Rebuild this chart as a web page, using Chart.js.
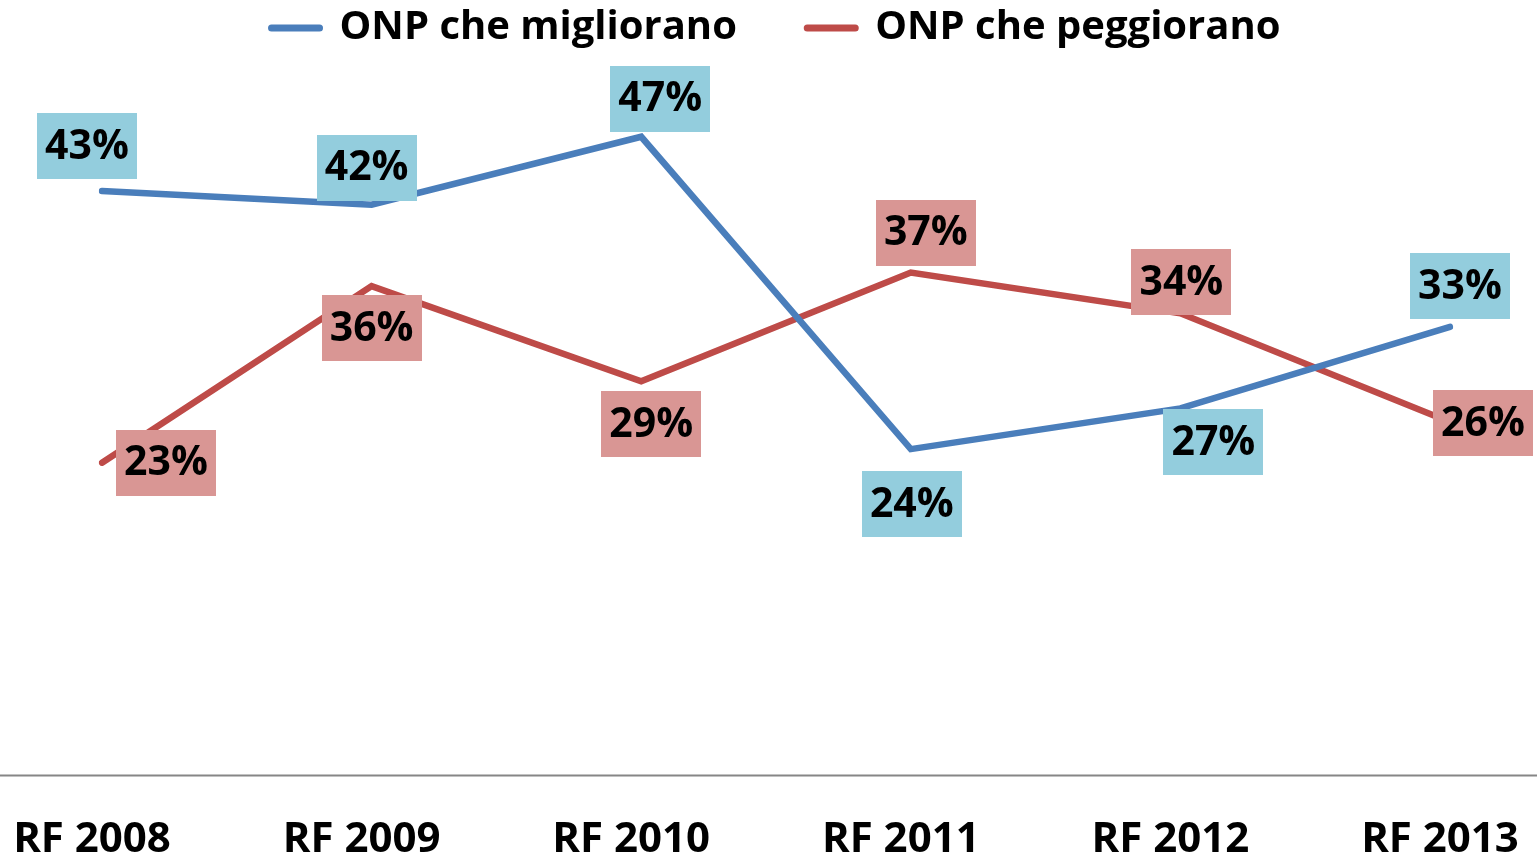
<!DOCTYPE html>
<html><head><meta charset="utf-8">
<script src="https://cdn.jsdelivr.net/npm/chart.js@4/dist/chart.umd.min.js"></script>
<style>html,body{margin:0;padding:0;background:#fff;overflow:hidden}</style>
</head><body>
<canvas id="c" width="1537" height="856"></canvas>
<script>
// ---- data ----
const categories = ['RF 2008','RF 2009','RF 2010','RF 2011','RF 2012','RF 2013'];
const seriesNames = ['ONP che migliorano','ONP che peggiorano'];
const migliorano = [43,42,47,24,27,33];
const peggiorano = [23,36,29,37,34,26];
const axisMin = 0;
const axisMax = 52.8;

// ---- styling ----
const FONT = '"Open Sans", "DejaVu Sans", sans-serif';
const lineColors = ['#4A7EBB', '#BE4B48'];
const labelBg = ['#93CDDD', '#D99694'];
// label box centre offset from the point (px)
const labelOffsets = [
  [[-15,-45],[-5,-37],[19,-38],[1,55],[33,34],[10,-41]],
  [[64,0],[0,42],[10,43],[15,-40],[1,-31],[33,1]]
];

const axisLinePlugin = {
  id: 'fullAxisLine',
  beforeDatasetsDraw(chart) {
    const ctx = chart.ctx;
    const y = Math.round(chart.scales.y.getPixelForValue(0)) + 0.5;
    ctx.save();
    ctx.strokeStyle = '#868686';
    ctx.lineWidth = 2;
    ctx.beginPath();
    ctx.moveTo(0, y);
    ctx.lineTo(chart.width, y);
    ctx.stroke();
    ctx.restore();
  }
};

const boxLabelPlugin = {
  id: 'boxLabels',
  afterDatasetsDraw(chart) {
    const ctx = chart.ctx;
    ctx.save();
    chart.data.datasets.forEach((ds, di) => {
      const meta = chart.getDatasetMeta(di);
      meta.data.forEach((pt, i) => {
        const [dx, dy] = labelOffsets[di][i];
        const cx = pt.x + dx, cy = pt.y + dy;
        ctx.fillStyle = labelBg[di];
        ctx.fillRect(Math.round(cx - 50), Math.round(cy - 33), 100, 66);
        ctx.fillStyle = '#000';
        ctx.font = '700 41px ' + FONT;
        ctx.textAlign = 'center';
        ctx.textBaseline = 'middle';
        ctx.fillText(ds.data[i] + '%', cx, cy + 1);
      });
    });
    ctx.restore();
  }
};

new Chart(document.getElementById('c'), {
  type: 'line',
  data: {
    labels: categories,
    datasets: [
      { label: seriesNames[0], data: migliorano, borderColor: lineColors[0], backgroundColor: lineColors[0],
        borderWidth: 6.5, pointRadius: 0, tension: 0, borderCapStyle: 'round', pointStyle: 'line' },
      { label: seriesNames[1], data: peggiorano, borderColor: lineColors[1], backgroundColor: lineColors[1],
        borderWidth: 6.5, pointRadius: 0, tension: 0, borderCapStyle: 'round', pointStyle: 'line' }
    ]
  },
  options: {
    responsive: false,
    animation: false,
    devicePixelRatio: 1,
    layout: { padding: { left: 102, right: 87, top: 0, bottom: 0 } },
    plugins: {
      legend: {
        position: 'top',
        labels: {
          usePointStyle: true,
          pointStyleWidth: 48,
          padding: 8,
          color: '#000',
          font: { family: FONT, size: 40, weight: '700' },
          generateLabels(chart) {
            const items = Chart.defaults.plugins.legend.labels.generateLabels(chart);
            items.forEach((it, i) => {
              it.lineWidth = 7;
              it.lineCap = 'round';
              if (i === 0) it.text = it.text + '      ';
            });
            return items;
          }
        }
      },
      tooltip: { enabled: false }
    },
    scales: {
      x: {
        offset: false,
        grid: { display: false, drawTicks: false },
        border: { display: false },
        ticks: {
          color: '#000',
          font: { family: FONT, size: 42, weight: '700' },
          padding: 40,
          labelOffset: -10,
          maxRotation: 0,
          autoSkip: false
        },
        afterFit(scale) {
          scale.paddingLeft = 0;
          scale.paddingRight = 0;
          scale.height = 81;
        }
      },
      y: {
        display: false,
        min: axisMin,
        max: axisMax
      }
    }
  },
  plugins: [axisLinePlugin, boxLabelPlugin]
});
</script>
</body></html>
